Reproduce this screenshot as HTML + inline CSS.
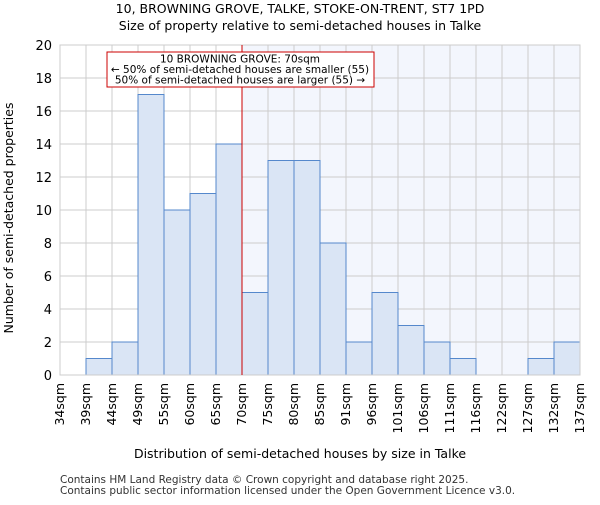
<!DOCTYPE html>
<html><head><meta charset="utf-8"><style>body{margin:0;background:#fff}svg{font-family:"DejaVu Sans","Liberation Sans",sans-serif}</style></head>
<body>
<svg id="chart" width="600" height="500" viewBox="0 0 600 500">
<text x="300" y="13" font-size="12.5" text-anchor="middle">10, BROWNING GROVE, TALKE, STOKE-ON-TRENT, ST7 1PD</text>
<text x="300" y="30" font-size="12.5" text-anchor="middle">Size of property relative to semi-detached houses in Talke</text>
<g id="plot"></g>
<text x="300" y="458" font-size="12.5" text-anchor="middle">Distribution of semi-detached houses by size in Talke</text>
<text x="13" y="218" font-size="12.5" text-anchor="middle" transform="rotate(-90 13 218)">Number of semi-detached properties</text>
<text x="60" y="483" font-size="10.5" fill="#333">Contains HM Land Registry data © Crown copyright and database right 2025.</text>
<text x="60" y="494" font-size="10.5" fill="#333">Contains public sector information licensed under the Open Government Licence v3.0.</text>
</svg>
<script>
const categories=["34sqm","39sqm","44sqm","49sqm","55sqm","60sqm","65sqm","70sqm","75sqm","80sqm","85sqm","91sqm","96sqm","101sqm","106sqm","111sqm","116sqm","122sqm","127sqm","132sqm","137sqm"];
const counts=[0,1,2,17,10,11,14,5,13,13,8,2,5,3,2,1,0,0,1,2];
const yTicks=[0,2,4,6,8,10,12,14,16,18,20];
const markerIndex=7;
const NS="http://www.w3.org/2000/svg";
const L=60,R=580,T=45,B=375,yMax=20;
const bw=(R-L)/counts.length;
const xs=i=>L+i*bw;
const ys=v=>B-(v/yMax)*(B-T);
const g=document.getElementById('plot');
function mk(t,a,p){const e=document.createElementNS(NS,t);for(const k in a)e.setAttribute(k,a[k]);(p||g).appendChild(e);return e;}
let e;
e=mk('rect',{x:xs(markerIndex),y:T,width:R-xs(markerIndex),height:B-T,fill:"#f3f6fd"});


for(let i=0;i<=counts.length;i++){e=mk('line',{x1:xs(i),x2:xs(i),y1:T,y2:B,stroke:"#ccc","stroke-width":1});

}
yTicks.forEach(v=>{e=mk('line',{x1:L,x2:R,y1:ys(v),y2:ys(v),stroke:"#ccc","stroke-width":1});


e=mk('text',{x:L-8,y:ys(v)+5,"font-size":"13","text-anchor":"end"});e.textContent=v;

});
counts.forEach((c,i)=>{if(c<=0)return;e=mk('rect',{x:xs(i),y:ys(c),width:bw,height:B-ys(c),fill:"#dae5f5",stroke:"#5588cc","stroke-width":1});

});
categories.forEach((c,i)=>{const x=xs(i)+4,y=B+8;e=mk('text',{x:x,y:y,"font-size":"12.5","text-anchor":"end",transform:`rotate(-90 ${x} ${y})`});e.textContent=c;

});
e=mk('rect',{x:L,y:T,width:R-L,height:B-T,fill:"none",stroke:"#ccc"});


e=mk('line',{x1:xs(markerIndex),x2:xs(markerIndex),y1:T,y2:B,stroke:"#cc0000","stroke-width":1});


e=mk('rect',{x:107,y:52,width:267,height:35,fill:"#fff",stroke:"#cc0000","stroke-width":1});


["10 BROWNING GROVE: 70sqm","← 50% of semi-detached houses are smaller (55)","50% of semi-detached houses are larger (55) →"].forEach((t,i)=>{e=mk('text',{x:240,y:62.5+i*10.5,"font-size":"10.5","text-anchor":"middle"});e.textContent=t;

});
</script>
</body></html>
